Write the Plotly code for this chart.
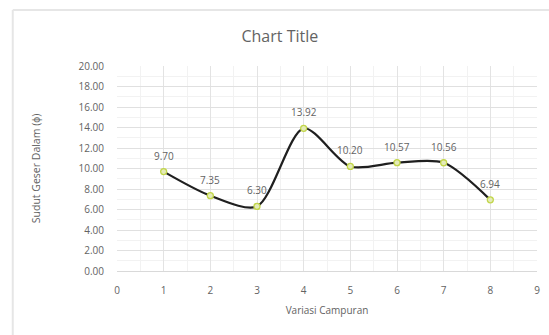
import plotly.graph_objects as go

# Mix variation number vs internal friction angle
variasi = [1, 2, 3, 4, 5, 6, 7, 8]
sudut_geser = [9.70, 7.35, 6.30, 13.92, 10.20, 10.57, 10.56, 6.94]
label_teks = ["9.70", "7.35", "6.30", "13.92", "10.20", "10.57", "10.56", "6.94"]

W, H = 549, 335
L, R, T, B = 117, 9, 66, 64
pw, ph = W - L - R, H - T - B


def px_x(p):
    return (p - L) / pw


def px_y(p):
    return 1 - (p - T) / ph


text_color = "#636363"
fnt = "Open Sans, Liberation Sans, sans-serif"

fig = go.Figure()
fig.add_trace(go.Scatter(
    x=variasi,
    y=sudut_geser,
    mode="lines+markers",
    line=dict(color="#1f1f1f", width=2.2, shape="spline", smoothing=0.8),
    marker=dict(size=6, color="#e4ebb8", line=dict(color="#c2d64a", width=1.3)),
    cliponaxis=False,
    showlegend=False,
))

# value labels above each point
for xv, yv, t in zip(variasi, sudut_geser, label_teks):
    fig.add_annotation(
        x=xv, y=yv, text=t, showarrow=False,
        yshift=16, font=dict(size=10, color=text_color, family=fnt),
    )

fig.update_layout(
    width=W,
    height=H,
    margin=dict(l=L, r=R, t=T, b=B),
    paper_bgcolor="white",
    plot_bgcolor="white",
    font=dict(family=fnt, color=text_color),
    title=dict(
        text="Chart Title",
        x=px_x(281), xref="paper", xanchor="center",
        y=1 - 36 / H, yref="container", yanchor="middle",
        font=dict(size=16, color=text_color, family=fnt),
    ),
    xaxis=dict(
        range=[0, 9],
        tickmode="linear", tick0=0, dtick=1,
        showgrid=True, gridcolor="#e3e3e3", gridwidth=1,
        minor=dict(showgrid=True, gridcolor="#f2f2f2", dtick=0.5),
        zeroline=False, showline=False,
        ticks="", ticklabelstandoff=12,
        tickfont=dict(size=10, color=text_color),
        title=dict(text="Variasi Campuran", font=dict(size=10, color=text_color), standoff=10),
    ),
    yaxis=dict(
        range=[0, 20],
        tickmode="linear", tick0=0, dtick=2,
        tickformat=".2f",
        showgrid=True, gridcolor="#e0e0e0", gridwidth=1,
        minor=dict(showgrid=True, gridcolor="#f2f2f2", dtick=1),
        zeroline=True, zerolinecolor="#d9d9d9", zerolinewidth=1,
        showline=False,
        ticks="", ticklabelstandoff=12,
        tickfont=dict(size=10, color=text_color),
        title=dict(text="Sudut Geser Dalam (ϕ)", font=dict(size=10.5, color=text_color), standoff=35),
    ),
    shapes=[
        # chart area frame
        dict(type="line", xref="paper", yref="paper",
             x0=px_x(12), x1=px_x(W + 5), y0=px_y(10), y1=px_y(10),
             line=dict(color="#e6e6e6", width=2)),
        dict(type="line", xref="paper", yref="paper",
             x0=px_x(12), x1=px_x(12), y0=px_y(10), y1=px_y(H + 5),
             line=dict(color="#e6e6e6", width=2)),
    ],
)

fig.write_html("out.html")
